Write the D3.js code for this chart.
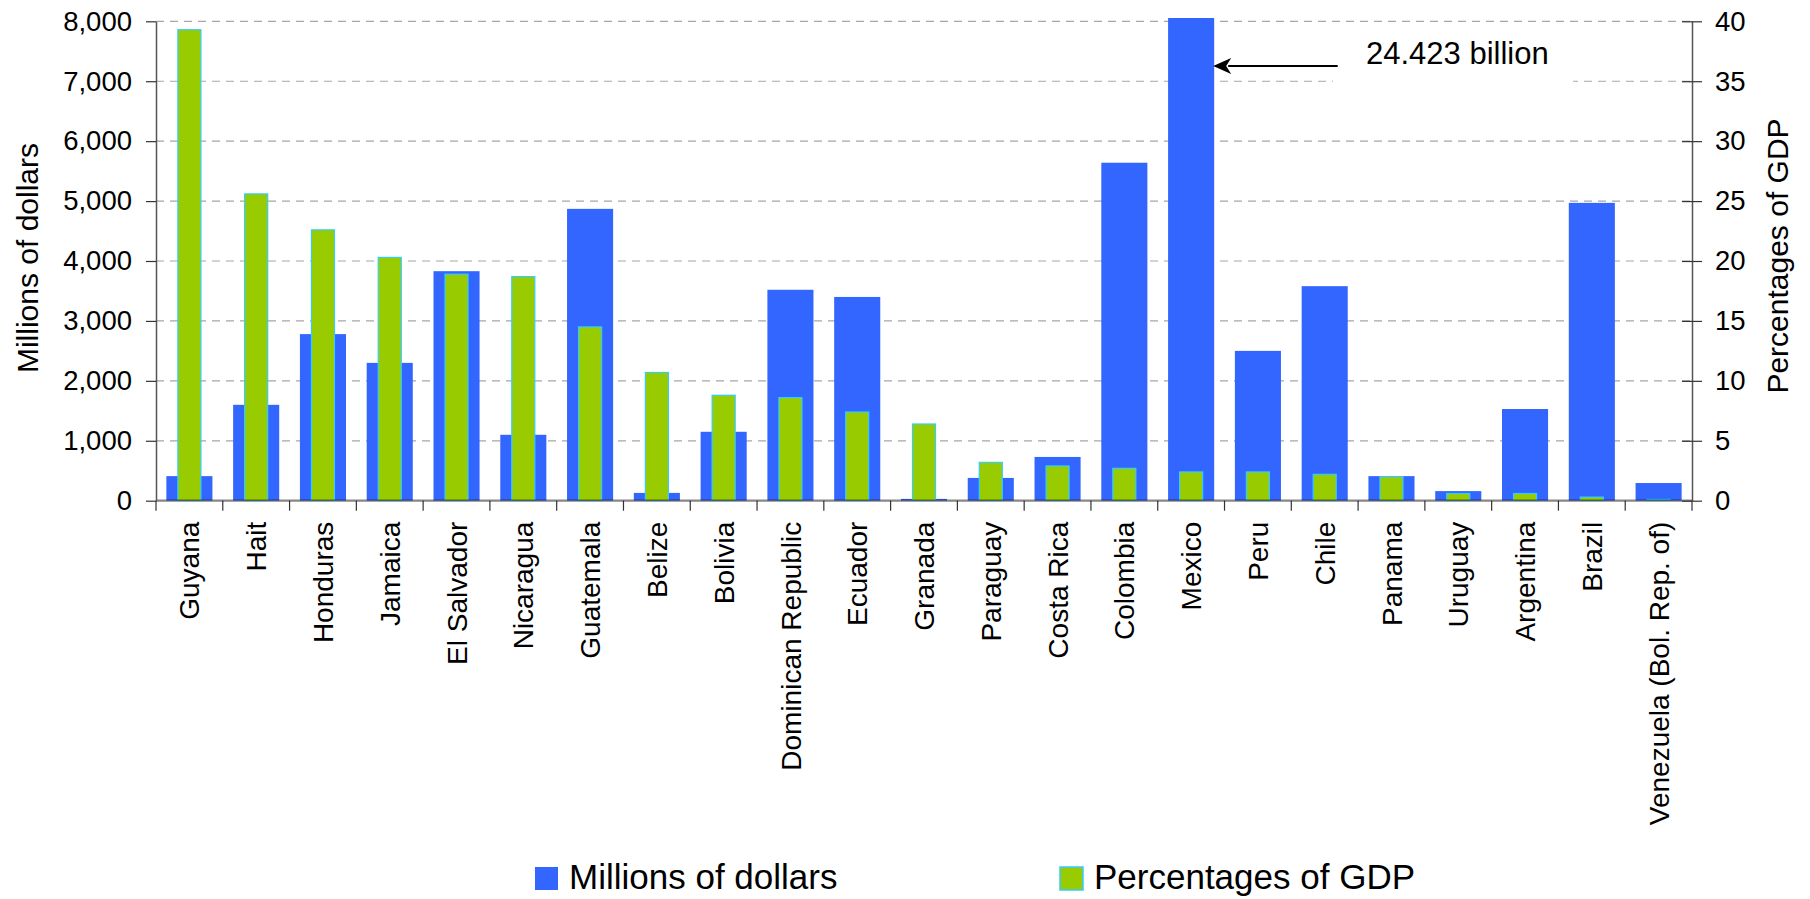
<!DOCTYPE html>
<html>
<head>
<meta charset="utf-8">
<script src="https://cdn.jsdelivr.net/npm/d3@7"></script>
<style>
  html, body { margin: 0; padding: 0; background: #fff; }
  svg { display: block; font-family: "Liberation Sans", Arial, sans-serif; }
</style>
</head>
<body>
<script>
// Remittances by country: amount (millions of dollars) and share of GDP
const categories = ["Guyana", "Hait", "Honduras", "Jamaica", "El Salvador", "Nicaragua", "Guatemala",
  "Belize", "Bolivia", "Dominican Republic", "Ecuador", "Granada", "Paraguay", "Costa Rica",
  "Colombia", "Mexico", "Peru", "Chile", "Panama", "Uruguay", "Argentina", "Brazil",
  "Venezuela (Bol. Rep. of)"];
const millionsOfDollars = [410, 1600, 2780, 2300, 3830, 1100, 4870, 130, 1150, 3520, 3400, 30,
  380, 730, 5640, 24423, 2500, 3580, 410, 160, 1530, 4970, 295];
const percentOfGDP = [39.3, 25.6, 22.6, 20.3, 18.9, 18.7, 14.5, 10.7, 8.8, 8.6, 7.4, 6.4,
  3.2, 2.9, 2.7, 2.4, 2.4, 2.2, 2.0, 0.6, 0.6, 0.3, 0.1];
const leftTicks = [0, 1000, 2000, 3000, 4000, 5000, 6000, 7000, 8000];
const rightTicks = [0, 5, 10, 15, 20, 25, 30, 35, 40];
const seriesNames = ["Millions of dollars", "Percentages of GDP"];
const calloutText = "24.423 billion";
const calloutIndex = 15;

const W = 1810, H = 899;
const plot = { left: 156, right: 1692, top: 21.3, bottom: 500.7 };
const BLUE = "#3366FF", GREEN = "#99CC00", CYAN = "#33CCFF";

const svg = d3.select("body").append("svg").attr("width", W).attr("height", H);

const x = d3.scaleBand().domain(categories).range([plot.left, plot.right]).padding(0);
const yL = d3.scaleLinear().domain([0, 8000]).range([plot.bottom, plot.top]);
const yR = d3.scaleLinear().domain([0, 40]).range([plot.bottom, plot.top]);
const bw = x.bandwidth();
const blueW = bw * 0.69, greenW = bw * 0.36;

// clip so the off-scale bar stops just above the top of the value axis
svg.append("defs").append("clipPath").attr("id", "plotClip")
  .append("rect").attr("x", plot.left).attr("y", plot.top - 3.3)
  .attr("width", plot.right - plot.left).attr("height", plot.bottom - plot.top + 3.3);

// dashed horizontal gridlines
svg.append("g").selectAll("line").data(leftTicks.filter(d => d > 0)).join("line")
  .attr("x1", plot.left).attr("x2", plot.right)
  .attr("y1", d => yL(d)).attr("y2", d => yL(d))
  .attr("stroke", "#a6a6a6").attr("stroke-width", 1.2).attr("stroke-dasharray", "8,6");

const bars = svg.append("g").attr("clip-path", "url(#plotClip)");
bars.selectAll("rect.m").data(categories).join("rect").attr("class", "m")
  .attr("x", d => x(d) + bw / 2 - blueW / 2)
  .attr("width", blueW)
  .attr("y", (d, i) => yL(millionsOfDollars[i]))
  .attr("height", (d, i) => plot.bottom - yL(millionsOfDollars[i]))
  .attr("fill", BLUE);
bars.selectAll("rect.p").data(categories).join("rect").attr("class", "p")
  .attr("x", d => x(d) + bw / 2 - greenW / 2 + 0.5)
  .attr("width", greenW - 1)
  .attr("y", (d, i) => yR(percentOfGDP[i]))
  .attr("height", (d, i) => plot.bottom - yR(percentOfGDP[i]))
  .attr("fill", GREEN).attr("stroke", CYAN).attr("stroke-width", 1.2);

// category axis line and tick marks at band edges
const edges = categories.map(c => x(c)).concat([plot.right]);
svg.append("g").selectAll("line").data(edges).join("line")
  .attr("x1", d => d).attr("x2", d => d)
  .attr("y1", plot.bottom).attr("y2", plot.bottom + 10)
  .attr("stroke", "#333").attr("stroke-width", 1.2);
svg.append("line")
  .attr("x1", plot.left).attr("x2", plot.right)
  .attr("y1", plot.bottom).attr("y2", plot.bottom)
  .attr("stroke", "rgba(0,0,0,0.47)").attr("stroke-width", 2.2);

// category labels
svg.append("g").selectAll("text").data(categories).join("text")
  .attr("transform", d => `translate(${x(d) + bw / 2},${plot.bottom + 21}) rotate(-90)`)
  .attr("dy", "0.36em")
  .attr("text-anchor", "end")
  .attr("font-size", 28)
  .attr("fill", "#000")
  .text(d => d);

// left value axis
const axL = svg.append("g").attr("transform", `translate(${plot.left},0)`)
  .call(d3.axisLeft(yL).tickValues(leftTicks).tickFormat(d3.format(",")).tickSize(10).tickSizeOuter(0).tickPadding(14));
axL.select(".domain").attr("stroke", "#555").attr("stroke-width", 1.5);
axL.selectAll(".tick line").attr("stroke", "#333").attr("stroke-width", 1.2);
axL.selectAll(".tick text").attr("font-size", 27.5).attr("font-family", "Liberation Sans, Arial, sans-serif").attr("fill", "#000");

// right percentage axis, ticks crossing the line
const axR = svg.append("g").attr("transform", `translate(${plot.right},0)`)
  .call(d3.axisRight(yR).tickValues(rightTicks).tickSize(10).tickSizeOuter(0).tickPadding(13));
axR.select(".domain").attr("stroke", "#555").attr("stroke-width", 1.5);
axR.selectAll(".tick line").attr("x1", -10).attr("stroke", "#333").attr("stroke-width", 1.2);
axR.selectAll(".tick text").attr("font-size", 27.5).attr("font-family", "Liberation Sans, Arial, sans-serif").attr("fill", "#000");

// axis titles
svg.append("text")
  .attr("transform", `translate(37.5,${(plot.top + plot.bottom) / 2 - 3}) rotate(-90)`)
  .attr("text-anchor", "middle").attr("font-size", 30).text(seriesNames[0]);
svg.append("text")
  .attr("transform", `translate(1788,${(plot.top + plot.bottom) / 2 - 5}) rotate(-90)`)
  .attr("text-anchor", "middle").attr("font-size", 30).text(seriesNames[1]);

// callout for the off-scale bar
const cx = x(categories[calloutIndex]) + bw / 2 + blueW / 2;
const cy = 66;
svg.append("rect").attr("x", 1333).attr("y", 27).attr("width", 240).attr("height", 60).attr("fill", "#fff");
svg.append("line").attr("x1", 1337.7).attr("x2", cx + 14).attr("y1", cy).attr("y2", cy)
  .attr("stroke", "#000").attr("stroke-width", 2);
svg.append("path")
  .attr("d", `M${cx - 1},${cy} L${cx + 17},${cy - 8} L${cx + 12},${cy} L${cx + 17},${cy + 8} Z`)
  .attr("fill", "#000");
svg.append("text").attr("x", 1366).attr("y", 64).attr("font-size", 31).text(calloutText);

// legend
const legend = svg.append("g");
const legendX = [535, 1060];
legend.selectAll("rect").data(seriesNames).join("rect")
  .attr("x", (d, i) => legendX[i]).attr("y", 867).attr("width", 23).attr("height", 23)
  .attr("fill", (d, i) => i === 0 ? BLUE : GREEN)
  .attr("stroke", (d, i) => i === 0 ? "none" : CYAN).attr("stroke-width", 1.5);
legend.selectAll("text").data(seriesNames).join("text")
  .attr("x", (d, i) => legendX[i] + 34).attr("y", 889)
  .attr("font-size", 35).text(d => d);
</script>
</body>
</html>
